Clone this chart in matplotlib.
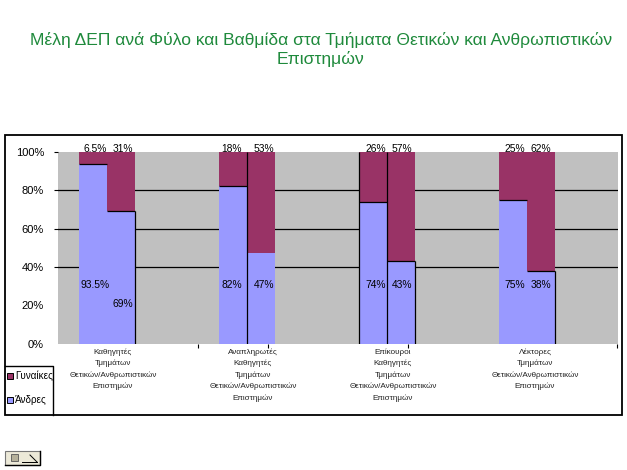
import numpy as np
import matplotlib
matplotlib.use('Agg')
import matplotlib.pyplot as plt
from matplotlib.patches import Rectangle, Patch
from matplotlib.lines import Line2D

plt.rcParams['font.family'] = ['Liberation Sans', 'DejaVu Sans']

W, H = 627, 470

title = 'Μέλη ΔΕΠ ανά Φύλο και Βαθμίδα στα Τμήματα Θετικών και Ανθρωπιστικών\nΕπιστημών'
categories = [
    'Καθηγητές\nΤμημάτων\nΘετικών/Ανθρωπιστικών\nΕπιστημών',
    'Αναπληρωτές\nΚαθηγητές\nΤμημάτων\nΘετικών/Ανθρωπιστικών\nΕπιστημών',
    'Επίκουροι\nΚαθηγητές\nΤμημάτων\nΘετικών/Ανθρωπιστικών\nΕπιστημών',
    'Λέκτορες\nΤμημάτων\nΘετικών/Ανθρωπιστικών\nΕπιστημών',
]
# ανά ομάδα: Θετικών, Ανθρωπιστικών
men_sci = [93.5, 82, 74, 75]
men_hum = [69, 47, 43, 38]
women_sci = [6.5, 18, 26, 25]
women_hum = [31, 53, 57, 62]
y_ticks = [0, 20, 40, 60, 80, 100]
grid_lines = [40, 60, 80]

BLUE = '#9999ff'
MAROON = '#993366'
GRAY = '#c0c0c0'
GREEN = '#1f8a3c'


def fx(px):
    return px / W


def fy(px):
    return 1 - px / H


fig = plt.figure(figsize=(W / 100, H / 100), dpi=100, facecolor='white')

# εξωτερικό πλαίσιο γραφήματος
fig.add_artist(Rectangle((fx(4.5), fy(415)), fx(617), 280 / H, transform=fig.transFigure,
                         facecolor='white', edgecolor='black', linewidth=1.3, zorder=-1))

fig.text(fx(321), fy(49.5), title, color=GREEN, fontsize=12.6, ha='center', va='center',
         linespacing=1.2)

ax = fig.add_axes([fx(58), fy(343.5), fx(559.5), 191.5 / H], facecolor=GRAY)
ax.set_axisbelow(True)

x = np.arange(len(categories))
bw = 0.2
ax.bar(x - bw / 2, men_sci, bw, color=BLUE, zorder=2)
ax.bar(x - bw / 2, women_sci, bw, bottom=men_sci, color=MAROON, zorder=2)
ax.bar(x + bw / 2, men_hum, bw, color=BLUE, zorder=2)
ax.bar(x + bw / 2, women_hum, bw, bottom=men_hum, color=MAROON, zorder=2)

# γραμμές πλέγματος: στην εικόνα φαίνονται μόνο στο 40, 60, 80
for v in grid_lines:
    ax.axhline(v, color='black', linewidth=0.9, zorder=1)

# μαύρα περιγράμματα: εμφανίζονται μόνο σε μερικές πλευρές των ράβδων
for i in range(len(categories)):
    ax.hlines(men_sci[i], i - bw, i, color='black', linewidth=0.9, zorder=3)
    if i != 1:
        ax.hlines(men_hum[i], i, i + bw, color='black', linewidth=0.9, zorder=3)
    if i in (1, 2):
        ax.vlines(i, 0, 100, color='black', linewidth=0.9, zorder=3)
    if i == 2:
        ax.vlines(i - bw, 0, 100, color='black', linewidth=0.9, zorder=3)
    if i != 1:
        ax.vlines(i + bw, 0, men_hum[i], color='black', linewidth=0.9, zorder=3)

# ετικέτες τιμών
label_kw = dict(fontsize=7.4, ha='center', va='center', zorder=4, clip_on=False)
sci_dx = [-0.085, -0.11, -0.08, -0.09]
hum_dx = [0.115, 0.12, 0.105, 0.10]
for i in range(len(categories)):
    ax.text(i + sci_dx[i], 30.5, f'{men_sci[i]:g}%', **label_kw)
    ax.text(i + hum_dx[i], 20.5 if i == 0 else 30.5, f'{men_hum[i]:g}%', **label_kw)
    ax.text(i + sci_dx[i], 101.8, f'{women_sci[i]:g}%', **label_kw)
    ax.text(i + hum_dx[i], 101.8, f'{women_hum[i]:g}%', **label_kw)

ax.set_xlim((58 - 107) / 140, (617.5 - 107) / 140)
ax.set_ylim(0, 100)
ax.set_yticks(y_ticks)
ax.set_yticklabels([f'{v}%' for v in y_ticks], fontsize=8)
ax.tick_params(axis='y', length=3, width=0.8, pad=7)
for v, t in zip(y_ticks, ax.yaxis.get_major_ticks()):
    if v < 40:
        t.tick1line.set_visible(False)
ax.set_xticks([(px - 107) / 140 for px in (198, 268, 408, 617)])
ax.set_xticklabels([])
ax.tick_params(axis='x', length=3, width=0.8, direction='out')
for s in ax.spines.values():
    s.set_visible(False)

# ετικέτες κατηγοριών
cat_px = [113, 253, 393, 535]
for px, name in zip(cat_px, categories):
    fig.text(fx(px), fy(348), name, fontsize=5.9, ha='center', va='top', color='#222222',
             linespacing=1.74)

# υπόμνημα
handles = [
    Patch(facecolor=MAROON, edgecolor='black', linewidth=0.7, label='Γυναίκες'),
    Patch(facecolor=BLUE, edgecolor='black', linewidth=0.7, label='Άνδρες'),
]
fig.add_artist(Line2D([fx(4.5), fx(52.5), fx(52.5)], [fy(365.5), fy(365.5), fy(415)],
                      color='black', linewidth=1.0))
for y_px, h in zip((376, 400), handles):
    fig.add_artist(Rectangle((fx(7), fy(y_px + 3)), 6 / W, 6 / H, transform=fig.transFigure,
                             facecolor=h.get_facecolor(), edgecolor='black', linewidth=0.7))
    fig.text(fx(15), fy(y_px), h.get_label(), fontsize=7.1, ha='left', va='center')

# κουμπί επιλογών επικόλλησης κάτω αριστερά
fig.add_artist(Rectangle((fx(5), fy(465)), 35 / W, 14 / H, transform=fig.transFigure,
                         facecolor='#ece9d8', edgecolor='#777777', linewidth=0.8))
fig.add_artist(Line2D([fx(5), fx(40), fx(40)], [fy(465), fy(465), fy(451)],
                      color='black', linewidth=1.0))
fig.add_artist(Line2D([fx(22), fx(37)], [fy(462), fy(462)], color='black', linewidth=0.7))
fig.add_artist(Line2D([fx(30), fx(37)], [fy(455), fy(462)], color='black', linewidth=0.7))
fig.add_artist(Rectangle((fx(11), fy(461)), 7 / W, 7 / H, transform=fig.transFigure,
                         facecolor='#b5b09a', edgecolor='#555555', linewidth=0.6))

fig.savefig('out.png', dpi=100)
